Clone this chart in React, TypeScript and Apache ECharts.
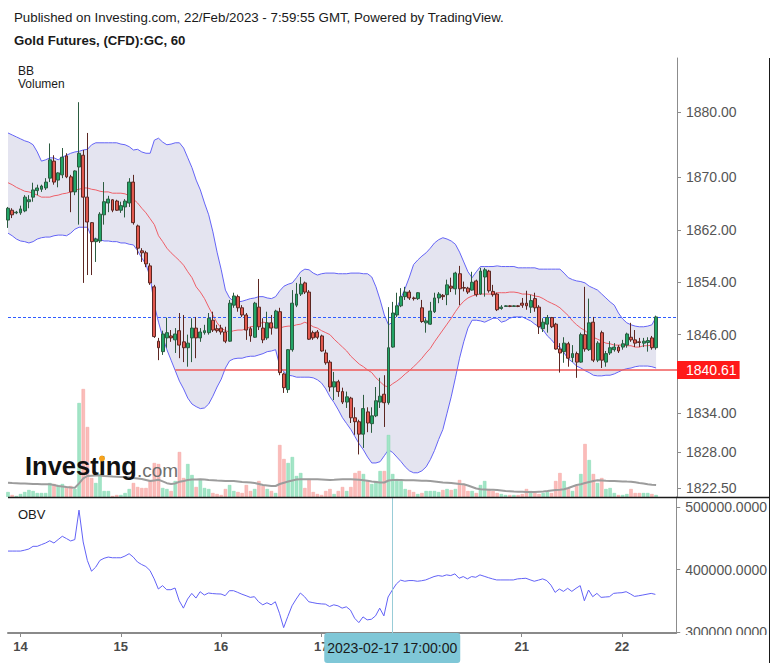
import React, { useEffect, useRef } from 'react';
import * as echarts from 'echarts';

const FONT = '"Liberation Sans", Arial, Helvetica, sans-serif';

// ---- Candles (hourly) ----
const open = [
  1863.5,1865.0,1864.6,1864.6,1864.9,1866.3,1867.0,1868.0,1868.2,1868.4,
  1869.9,1872.5,1869.6,1870.4,1873.3,1870.1,1867.8,1871.6,1873.4,1867.0,
  1863.1,1860.2,1860.3,1864.3,1866.1,1866.6,1866.4,1865.0,1865.5,1866.1,
  1869.3,1862.6,1858.8,1858.5,1856.5,1853.3,1845.0,1843.4,1845.5,1845.8,
  1845.2,1846.6,1844.9,1844.0,1845.5,1847.0,1845.5,1846.3,1846.3,1848.2,
  1846.9,1847.0,1846.4,1845.0,1850.5,1851.8,1850.1,1849.0,1846.9,1845.6,
  1850.2,1847.0,1845.5,1847.8,1847.0,1849.5,1840.0,1837.6,1843.7,1850.5,
  1852.2,1853.9,1852.5,1846.3,1846.4,1845.8,1843.2,1841.8,1838.0,1838.8,
  1837.3,1835.7,1836.3,1833.3,1832.7,1830.8,1834.2,1832.4,1833.6,1835.7,
  1836.9,1835.6,1844.1,1849.0,1850.4,1851.8,1852.5,1851.6,1851.5,1850.1,
  1847.8,1847.6,1849.5,1851.6,1852.0,1852.1,1853.4,1853.0,1855.3,1853.2,
  1853.1,1852.8,1854.2,1852.2,1854.8,1855.7,1852.6,1852.2,1850.0,1850.3,
  1850.4,1850.3,1850.4,1850.8,1850.8,1850.2,1851.5,1850.2,1846.9,1847.6,
  1848.6,1847.6,1843.8,1843.4,1844.6,1842.5,1843.1,1841.8,1846.0,1843.7,
  1847.9,1842.1,1846.3,1841.8,1843.2,1843.7,1844.1,1844.1,1844.4,1845.6,
  1845.2,1844.9,1844.7,1844.8,1845.5,1844.0
];
const close = [
  1865.3,1864.3,1864.7,1865.2,1867.0,1866.6,1868.1,1868.4,1868.7,1869.3,
  1872.7,1869.3,1870.7,1873.1,1870.1,1867.8,1871.0,1873.7,1867.0,1863.2,
  1860.2,1860.6,1864.4,1866.3,1866.7,1865.0,1865.0,1865.7,1866.4,1869.3,
  1863.1,1859.2,1858.5,1856.8,1853.9,1845.7,1844.0,1846.1,1846.3,1845.5,
  1846.1,1844.4,1844.0,1844.7,1847.0,1845.5,1846.4,1846.6,1848.5,1846.7,
  1846.6,1846.4,1845.0,1850.8,1851.9,1850.1,1849.0,1846.7,1845.8,1850.8,
  1847.2,1845.2,1847.8,1847.0,1849.6,1840.2,1837.9,1843.7,1850.8,1852.2,
  1853.7,1852.5,1845.3,1845.5,1845.6,1843.5,1841.7,1838.0,1838.8,1837.3,
  1835.7,1836.5,1833.3,1832.7,1830.8,1834.7,1832.5,1833.6,1835.9,1836.6,
  1835.6,1844.0,1849.3,1850.4,1851.8,1852.5,1851.6,1851.5,1852.4,1848.0,
  1848.1,1849.6,1851.6,1852.2,1851.8,1853.6,1853.1,1855.4,1853.0,1853.1,
  1852.5,1854.0,1852.1,1855.7,1855.9,1852.7,1852.1,1849.8,1850.2,1850.4,
  1850.3,1850.4,1850.3,1850.5,1850.4,1851.2,1850.1,1847.2,1847.9,1848.6,
  1847.2,1843.8,1843.2,1844.7,1842.4,1843.1,1841.8,1846.0,1843.8,1847.8,
  1842.1,1844.7,1842.1,1843.1,1844.0,1844.1,1843.5,1844.6,1846.1,1845.2,
  1844.7,1844.8,1845.0,1845.1,1844.0,1848.7
];
const low = [
  1862.3,1863.8,1864.4,1864.3,1864.7,1865.3,1866.3,1867.3,1867.8,1868.1,
  1869.3,1868.9,1868.5,1869.9,1869.9,1864.7,1867.3,1862.8,1853.9,1855.1,
  1855.1,1857.1,1860.0,1862.8,1864.7,1864.7,1864.9,1864.6,1863.9,1865.5,
  1862.8,1858.2,1857.1,1856.3,1853.6,1845.5,1842.1,1842.9,1844.0,1844.9,
  1843.2,1842.4,1841.8,1841.1,1841.8,1842.4,1844.9,1846.0,1846.0,1846.4,
  1846.3,1846.0,1844.7,1844.9,1850.1,1849.5,1848.7,1845.2,1844.9,1845.5,
  1846.7,1844.7,1845.2,1846.0,1847.0,1839.8,1837.1,1837.1,1843.4,1850.2,
  1851.9,1852.2,1845.2,1845.2,1845.3,1843.4,1841.4,1837.3,1836.0,1836.5,
  1835.4,1834.8,1832.5,1830.7,1827.7,1828.7,1831.1,1831.0,1833.4,1834.8,
  1831.9,1835.3,1844.0,1848.7,1850.2,1851.3,1851.3,1851.2,1851.3,1847.8,
  1846.3,1847.5,1849.3,1850.8,1851.3,1850.5,1852.5,1852.1,1850.5,1852.6,
  1852.2,1852.7,1851.8,1852.1,1851.8,1852.4,1851.8,1849.6,1849.8,1850.3,
  1850.2,1850.3,1850.2,1850.1,1849.8,1849.3,1849.5,1846.1,1846.4,1846.3,
  1847.0,1843.7,1840.2,1841.7,1841.1,1841.8,1839.4,1841.7,1843.4,1843.5,
  1841.8,1841.8,1840.9,1841.1,1842.9,1843.4,1843.2,1843.7,1844.0,1844.9,
  1844.1,1844.1,1844.1,1843.4,1843.7,1843.7
];
const high = [
  1865.5,1865.3,1864.9,1865.7,1867.3,1867.3,1869.2,1868.9,1868.9,1869.9,
  1875.2,1873.4,1870.8,1874.5,1873.7,1870.4,1871.1,1881.5,1874.2,1876.8,
  1863.2,1860.8,1864.7,1869.3,1867.2,1866.7,1866.6,1866.3,1866.7,1869.9,
  1870.4,1862.8,1859.2,1858.8,1856.9,1853.6,1845.5,1846.6,1848.6,1846.7,
  1847.0,1849.3,1849.0,1846.0,1848.5,1848.7,1847.0,1847.5,1849.3,1849.5,
  1847.5,1847.5,1847.2,1851.3,1852.4,1852.1,1850.5,1849.3,1847.2,1851.0,
  1854.5,1848.5,1849.5,1849.0,1849.8,1850.1,1840.2,1843.8,1852.8,1853.9,
  1854.8,1854.1,1852.8,1846.6,1846.7,1846.0,1843.7,1842.1,1840.3,1839.1,
  1837.9,1837.3,1836.5,1834.9,1833.0,1836.8,1834.9,1834.9,1838.0,1839.4,
  1839.8,1850.2,1851.0,1852.4,1853.1,1853.3,1852.8,1851.8,1852.5,1851.3,
  1848.5,1851.0,1852.4,1852.5,1852.2,1854.4,1854.7,1855.6,1856.5,1854.1,
  1853.3,1855.6,1854.4,1856.2,1856.2,1855.9,1853.6,1852.4,1850.5,1850.5,
  1850.5,1850.5,1850.5,1851.6,1852.7,1852.1,1852.4,1850.5,1848.5,1849.0,
  1848.7,1847.8,1844.7,1845.6,1844.9,1844.4,1843.4,1846.3,1853.3,1851.5,
  1848.7,1845.0,1846.6,1843.5,1845.0,1844.7,1844.4,1845.2,1846.3,1847.8,
  1846.7,1845.5,1845.5,1845.6,1845.8,1848.9
];

// ---- Volume & its moving average ----
const volume = [
  2500,1000,500,1500,2500,3500,3000,2000,2000,2000,
  7000,6500,6000,6500,5000,5500,4000,47000,54000,35000,
  9500,7000,11500,3000,3000,500,1000,1000,2000,4000,
  7000,5000,4500,4500,8500,17000,16500,4500,4000,3000,
  8000,22500,9500,16500,11000,5000,8500,4500,4000,2000,
  1500,1000,4000,6000,3000,2500,2000,6000,3000,4000,
  8000,5500,4000,3000,2000,26000,19000,17000,20000,10500,
  12000,4500,9000,2500,1500,1000,3000,4000,1500,3000,
  5000,3000,5000,12000,13000,11500,8000,6500,8000,13000,
  13000,31000,11500,9000,8000,4000,3500,2500,1500,2000,
  3000,3000,3000,2500,3500,4000,3500,4000,8500,6500,
  3000,3000,2000,6000,8000,4000,3000,2000,1500,1000,
  1000,1000,1000,1500,4000,3000,2000,1500,2000,2500,
  2000,8000,12000,8000,4500,3000,5500,11500,26500,18500,
  11500,7000,9500,4000,4500,2000,1000,1000,1500,4000,
  2000,2000,2000,2000,1500,1000
];
const volumeMA = [
  7150,7000,6900,6800,6700,6600,6500,6450,6400,6350,
  6350,6000,5500,5250,5000,4800,4650,6800,9300,10500,
  10600,10700,10800,10500,10400,10200,10100,10000,10000,9800,
  9500,9300,9000,8500,8000,8300,8600,7800,6900,6500,
  6800,7600,8000,8500,8700,8700,8850,8750,8500,8400,
  8250,8150,8000,8000,8000,7750,7500,7400,7250,7000,
  6500,6000,5750,5500,5500,6500,7150,7750,8250,8750,
  8850,8850,8850,8850,8850,8750,8650,8500,8600,8750,
  8850,8850,8850,8750,8600,8400,8100,7750,7500,7250,
  7250,8250,8500,8500,8500,8400,8350,8350,8250,8150,
  8100,8000,7750,7500,7250,7150,7000,6750,6500,6350,
  5750,5000,4250,3850,3750,3650,3600,3500,3250,3000,
  2850,2700,2650,2600,2550,2500,2500,2650,2800,3000,
  3250,3500,3650,3850,4500,5250,6000,6350,7000,7500,
  8000,8350,8250,8100,8000,8000,7900,7800,7700,7650,
  7350,7000,6750,6350,6150,6000
];

// ---- Bollinger Bands ----
const bbUpper = [
  1876.8,1876.5,1876.2,1875.9,1875.6,1875.4,1875.0,1873.9,1872.5,1872.7,
  1873.0,1873.0,1872.7,1873.1,1873.4,1873.7,1873.9,1874.0,1874.2,1874.3,
  1875.0,1875.3,1875.3,1875.3,1875.3,1875.3,1875.3,1875.1,1875.0,1874.7,
  1874.2,1874.3,1873.9,1873.7,1873.7,1875.7,1876.0,1875.4,1875.0,1875.1,
  1875.3,1875.3,1874.5,1873.0,1871.5,1869.6,1868.1,1866.1,1864.3,1861.7,
  1858.6,1855.9,1852.8,1851.6,1851.1,1851.0,1851.1,1851.3,1851.5,1851.6,
  1851.8,1851.8,1851.6,1851.5,1851.8,1852.7,1853.4,1853.7,1853.9,1854.7,
  1855.6,1856.0,1855.9,1855.4,1855.1,1855.3,1855.4,1855.4,1855.4,1855.3,
  1855.3,1855.3,1855.4,1855.4,1855.4,1855.3,1855.3,1854.8,1853.3,1851.3,
  1849.0,1847.5,1847.9,1850.1,1851.6,1853.1,1854.8,1856.7,1857.4,1858.0,
  1858.5,1859.2,1860.0,1860.5,1860.8,1860.6,1860.3,1859.8,1858.6,1857.1,
  1855.6,1854.7,1855.6,1856.4,1856.4,1856.4,1856.4,1856.5,1856.4,1856.4,
  1856.4,1856.4,1856.2,1856.2,1856.2,1856.2,1856.2,1856.0,1856.0,1856.0,
  1856.0,1856.0,1856.0,1855.4,1854.7,1854.4,1854.2,1854.1,1853.9,1853.4,
  1853.1,1852.8,1852.2,1851.6,1851.0,1850.5,1849.3,1848.4,1847.8,1847.5,
  1847.3,1847.2,1847.2,1847.3,1847.5,1848.7
];
const bbMiddle = [
  1869.2,1868.9,1868.5,1868.2,1867.9,1867.8,1867.6,1867.3,1867.0,1867.0,
  1867.0,1867.2,1867.3,1867.5,1867.6,1867.8,1868.1,1868.2,1868.4,1868.4,
  1868.2,1868.1,1867.9,1867.8,1867.8,1867.6,1867.6,1867.6,1867.5,1867.2,
  1866.7,1866.1,1865.3,1864.6,1863.7,1862.8,1861.1,1860.2,1859.2,1858.5,
  1857.9,1857.3,1856.6,1855.6,1854.7,1853.3,1852.5,1851.5,1850.2,1849.0,
  1847.8,1847.0,1846.6,1846.4,1846.6,1846.7,1846.7,1846.9,1847.2,1847.3,
  1847.6,1847.9,1847.8,1847.3,1847.0,1847.0,1847.2,1847.3,1847.3,1847.5,
  1847.6,1847.9,1847.6,1847.2,1847.0,1846.6,1846.3,1846.0,1845.3,1844.7,
  1844.1,1843.5,1842.7,1842.1,1841.5,1841.1,1840.6,1840.2,1839.4,1838.8,
  1838.2,1838.0,1838.5,1838.9,1839.4,1840.0,1840.5,1841.1,1841.7,1842.4,
  1843.2,1843.9,1844.9,1845.8,1846.7,1847.6,1848.5,1849.5,1850.4,1851.1,
  1851.6,1851.9,1852.1,1852.2,1852.2,1852.2,1852.2,1852.4,1852.4,1852.4,
  1852.5,1852.5,1852.4,1852.2,1852.2,1852.1,1851.9,1851.8,1851.5,1851.1,
  1850.8,1850.5,1850.1,1849.5,1848.9,1848.1,1847.5,1847.0,1846.6,1846.1,
  1845.6,1845.3,1845.0,1844.7,1844.6,1844.4,1844.4,1844.4,1844.3,1844.3,
  1844.1,1844.1,1844.3,1844.3,1844.4,1844.6
];
const bbLower = [
  1861.5,1861.1,1860.6,1860.3,1860.2,1860.0,1860.2,1860.6,1860.8,1860.9,
  1860.9,1861.1,1861.2,1861.2,1861.1,1861.5,1862.1,1862.4,1862.4,1862.4,
  1860.9,1860.6,1860.5,1860.3,1860.3,1860.2,1860.2,1860.0,1860.0,1859.8,
  1859.7,1858.8,1857.7,1856.7,1854.8,1850.5,1847.9,1845.6,1843.7,1842.1,
  1840.5,1838.9,1837.7,1836.3,1835.4,1835.0,1834.7,1834.8,1835.4,1836.6,
  1838.0,1839.2,1840.9,1842.0,1842.3,1842.4,1842.4,1842.6,1842.7,1842.7,
  1842.9,1843.1,1843.4,1843.5,1843.7,1841.2,1840.3,1839.8,1839.7,1839.5,
  1839.5,1839.5,1839.5,1839.4,1839.1,1838.6,1837.7,1836.5,1835.6,1834.5,
  1833.3,1832.4,1831.5,1830.4,1829.3,1828.4,1827.3,1826.4,1826.4,1826.6,
  1827.5,1828.4,1828.0,1827.3,1826.6,1825.8,1825.2,1824.9,1824.9,1825.2,
  1825.8,1826.9,1828.3,1830.0,1831.5,1834.0,1836.5,1839.4,1842.4,1844.9,
  1847.0,1848.2,1848.2,1848.1,1847.9,1848.2,1848.5,1848.5,1847.9,1848.1,
  1848.5,1848.7,1848.7,1848.7,1848.4,1848.1,1847.6,1847.2,1846.7,1845.8,
  1845.2,1844.4,1844.1,1843.2,1842.3,1841.8,1841.2,1840.9,1840.5,1840.2,
  1839.8,1839.7,1839.7,1839.8,1839.8,1840.0,1840.3,1840.6,1840.8,1840.9,
  1841.1,1841.2,1841.2,1841.2,1841.1,1840.9
];

// ---- OBV ----
const obv = [
  429500,429500,429500,429500,431000,432800,437100,437100,439800,442400,
  446000,442400,447900,453200,449500,445700,447900,495000,444100,414500,
  397300,403800,414500,418000,419900,418800,418800,418800,421500,425300,
  419900,412000,408000,404800,398400,385000,368800,374200,367700,367700,
  370400,350000,338200,352700,361800,354300,364500,359200,362400,361500,
  361000,360800,358100,366100,366100,363400,360500,358100,355400,356500,
  348400,343500,346800,343500,348400,330000,307000,325000,341900,352700,
  362400,356500,348400,347000,345700,345000,344600,340800,343500,341900,
  338200,340300,335000,322000,315000,324200,319400,320400,325800,338200,
  325800,356000,367000,377000,383000,381200,382300,382300,381200,382000,
  383300,386000,388700,390300,389200,391400,390300,393000,386000,388700,
  385000,388700,387600,391400,389200,387000,385000,383300,383300,383300,
  383300,383300,385000,385500,386000,383500,381200,383000,385000,382300,
  375000,363400,368800,365000,369900,365000,369900,374200,350000,367200,
  356500,361800,355400,356000,356500,361800,362500,362900,364500,361000,
  357000,358000,359200,360500,361800,360200
];

// ---- Axis ticks & annotations ----
const priceTicks = [1822.5, 1828, 1834, 1846, 1854, 1862, 1870, 1880];
const obvTicks = [300000, 400000, 500000];
const hLinePrice = 1840.61;
const hLineStartIndex = 40;
const crosshairIndex = 92;

function pad(n: number) { return String(n).padStart(2, '0'); }
function fmt(t: number) {
  const d = new Date(t);
  return `${d.getUTCFullYear()}-${pad(d.getUTCMonth() + 1)}-${pad(d.getUTCDate())} ${pad(d.getUTCHours())}:00:00`;
}
function buildCategories(): string[] {
  const out: string[] = [];
  const h = 3600 * 1000;
  const s1 = Date.UTC(2023, 1, 13, 21);
  for (let i = 0; i < 93; i++) out.push(fmt(s1 + i * h));
  const s2 = Date.UTC(2023, 1, 19, 18);
  for (let i = 0; i < 68; i++) out.push(fmt(s2 + i * h)); // 63 bars + 5 empty slots
  return out;
}
const categories = buildCategories();
const isMidnight = (v: string) => typeof v === 'string' && v.endsWith(' 00:00:00');
// day labels hidden under the crosshair's date box are not drawn
const showDayLabel = (i: number, v: string) => isMidnight(v) && Math.abs(i - crosshairIndex) > 12;

export default function App() {
  const ref = useRef<HTMLDivElement>(null);
  useEffect(() => {
    if (!ref.current) return;
    const chart = echarts.init(ref.current, undefined, { renderer: 'svg' });
    const n = close.length;
    const option: any = {
      animation: false,
      backgroundColor: '#ffffff',
      textStyle: { fontFamily: FONT },
      grid: [
        { left: 8, top: 58, width: 669, height: 439 },
        { left: 8, top: 497, width: 669, height: 136 },
      ],
      xAxis: [
        { type: 'category', gridIndex: 0, data: categories, boundaryGap: false, show: false },
        {
          type: 'category', gridIndex: 1, data: categories, boundaryGap: false,
          axisLine: { show: true, lineStyle: { color: '#8a8a8a', width: 2 } },
          axisTick: { show: true, interval: (_i: number, v: string) => isMidnight(v), length: 4, lineStyle: { color: '#8a8a8a' } },
          axisLabel: {
            interval: showDayLabel,
            formatter: (v: string) => String(Number(v.slice(8, 10))),
            fontFamily: FONT, fontSize: 13, fontWeight: 'bold', color: '#4a4a4a', margin: 7,
          },
          splitLine: { show: false },
          axisPointer: {
            show: true, type: 'line', value: crosshairIndex, status: 'show', snap: false, triggerTooltip: false,
            lineStyle: { color: '#98ccd7', width: 1, type: 'solid' },
            label: {
              show: true, backgroundColor: '#7fc7d7', color: '#1a1a1a', fontFamily: FONT, fontSize: 14,
              padding: [8, 3, 8, 3], margin: 1,
              formatter: (p: any) => (typeof p.value === 'number' ? categories[p.value] : String(p.value)),
            },
            handle: { show: false },
          },
        },
      ],
      yAxis: [
        {
          type: 'value', gridIndex: 0, position: 'right', min: 1821.2, max: 1888.25,
          splitLine: { show: false },
          axisLine: { show: true, onZero: false, lineStyle: { color: '#8c8c8c', width: 1 } },
          axisTick: { show: true, customValues: priceTicks, length: 4, lineStyle: { color: '#8c8c8c' } },
          axisLabel: { customValues: priceTicks, formatter: (v: number) => v.toFixed(2), color: '#555', fontFamily: FONT, fontSize: 14, margin: 9 },
        },
        { type: 'value', gridIndex: 0, show: false, min: 0, max: 219500, splitLine: { show: false } },
        {
          type: 'value', gridIndex: 1, position: 'right', min: 298400, max: 516000,
          splitLine: { show: false },
          axisLine: { show: true, onZero: false, lineStyle: { color: '#8c8c8c', width: 1 } },
          axisTick: { show: true, customValues: obvTicks, length: 4, lineStyle: { color: '#8c8c8c' } },
          axisLabel: { customValues: obvTicks, formatter: (v: number) => v.toFixed(4), color: '#555', fontFamily: FONT, fontSize: 14, margin: 9 },
        },
      ],
      series: [
        {
          name: 'BB lower', type: 'line', xAxisIndex: 0, yAxisIndex: 0, stack: 'bb', data: bbLower,
          symbol: 'none', silent: true, z: 1, lineStyle: { color: '#6464f6', width: 1 },
        },
        {
          name: 'BB upper', type: 'line', xAxisIndex: 0, yAxisIndex: 0, stack: 'bb',
          data: bbUpper.map((u, i) => +(u - bbLower[i]).toFixed(2)),
          symbol: 'none', silent: true, z: 1, lineStyle: { color: '#6464f6', width: 1 },
          areaStyle: { color: '#e4e4f0', opacity: 1 },
        },
        {
          name: 'BB basis', type: 'line', xAxisIndex: 0, yAxisIndex: 0, data: bbMiddle,
          symbol: 'none', silent: true, z: 2, lineStyle: { color: '#ee5f68', width: 1 },
        },
        {
          name: 'Volume', type: 'bar', xAxisIndex: 0, yAxisIndex: 1, barWidth: 3.4, silent: true, z: 2,
          data: volume.map((v, i) => ({
            value: v,
            itemStyle: close[i] >= open[i]
              ? { color: '#a2e5c6', borderColor: '#80d8b0', borderWidth: 0.5 }
              : { color: '#fbbcba', borderColor: '#f4a29f', borderWidth: 0.5 },
          })),
        },
        {
          name: 'Volume MA', type: 'line', xAxisIndex: 0, yAxisIndex: 1, data: volumeMA,
          symbol: 'none', silent: true, z: 3, lineStyle: { color: '#9c9c9c', width: 2 },
        },
        {
          name: 'GC', type: 'candlestick', xAxisIndex: 0, yAxisIndex: 0, barWidth: 3.4, z: 5,
          data: open.map((o, i) => [o, close[i], low[i], high[i]]),
          itemStyle: {
            color: '#22a466', color0: '#e2594f',
            borderColor: '#2c5c40', borderColor0: '#5c2722', borderWidth: 1,
          },
          markLine: {
            symbol: ['none', 'none'], silent: true, animation: false,
            data: [
              { yAxis: close[n - 1], lineStyle: { color: '#2f5cff', type: [3, 2], width: 1.2 }, label: { show: false } },
              [
                {
                  coord: [hLineStartIndex, hLinePrice],
                  lineStyle: { color: '#f05a5a', width: 1.5, type: 'solid' },
                  label: {
                    show: true, position: 'end', formatter: hLinePrice.toFixed(2), distance: 0,
                    backgroundColor: '#ff1a1a', color: '#ffffff', fontFamily: FONT, fontSize: 14, padding: [2, 3, 2, 9],
                  },
                },
                { coord: [categories.length - 1, hLinePrice] },
              ],
            ],
          },
        },
        {
          name: 'OBV', type: 'line', xAxisIndex: 1, yAxisIndex: 2, data: obv,
          symbol: 'none', silent: true, lineStyle: { color: '#6262f6', width: 1 },
        },
      ],
      graphic: [
        { type: 'text', x: 14, y: 17, z: 100, style: { text: 'Published on Investing.com, 22/Feb/2023 - 7:59:55 GMT, Powered by TradingView.', font: `13.3px ${FONT}`, fill: '#1a1a1a', textVerticalAlign: 'middle' } },
        { type: 'text', x: 14, y: 40, z: 100, style: { text: 'Gold Futures, (CFD):GC, 60', font: `bold 13.2px ${FONT}`, fill: '#1a1a1a', textVerticalAlign: 'middle' } },
        { type: 'text', x: 18, y: 70.5, z: 100, style: { text: 'BB', font: `12px ${FONT}`, fill: '#1a1a1a', textVerticalAlign: 'middle' } },
        { type: 'text', x: 18, y: 83.5, z: 100, style: { text: 'Volumen', font: `12px ${FONT}`, fill: '#1a1a1a', textVerticalAlign: 'middle' } },
        { type: 'text', x: 18, y: 514, z: 100, style: { text: 'OBV', font: `13px ${FONT}`, fill: '#1a1a1a', textVerticalAlign: 'middle' } },
        { type: 'text', x: 25, y: 466, z: 100, style: { text: 'Investing', font: `bold 25.5px ${FONT}`, fill: '#111111', textVerticalAlign: 'middle' } },
        { type: 'circle', z: 101, shape: { cx: 102, cy: 458.5, r: 3 }, style: { fill: '#f6a21c' } },
        { type: 'text', x: 137, y: 470.5, z: 100, style: { text: '.com', font: `19px ${FONT}`, fill: '#6e6e6e', textVerticalAlign: 'middle' } },
        { type: 'rect', z: 90, shape: { x: 678, y: 635, width: 92, height: 28 }, style: { fill: '#ffffff' } },
        { type: 'line', z: 95, shape: { x1: 8, y1: 497.5, x2: 770, y2: 497.5 }, style: { stroke: '#1a1a1a', lineWidth: 1.5 } },
        { type: 'line', z: 95, shape: { x1: 769.5, y1: 58, x2: 769.5, y2: 663 }, style: { stroke: '#1a1a1a', lineWidth: 1 } },
      ],
    };
    chart.setOption(option);
    return () => chart.dispose();
  }, []);
  return (
    <div
      ref={ref}
      style={{ position: 'absolute', left: 0, top: 0, width: 770, height: 663, overflow: 'hidden', background: '#fff' }}
    />
  );
}
